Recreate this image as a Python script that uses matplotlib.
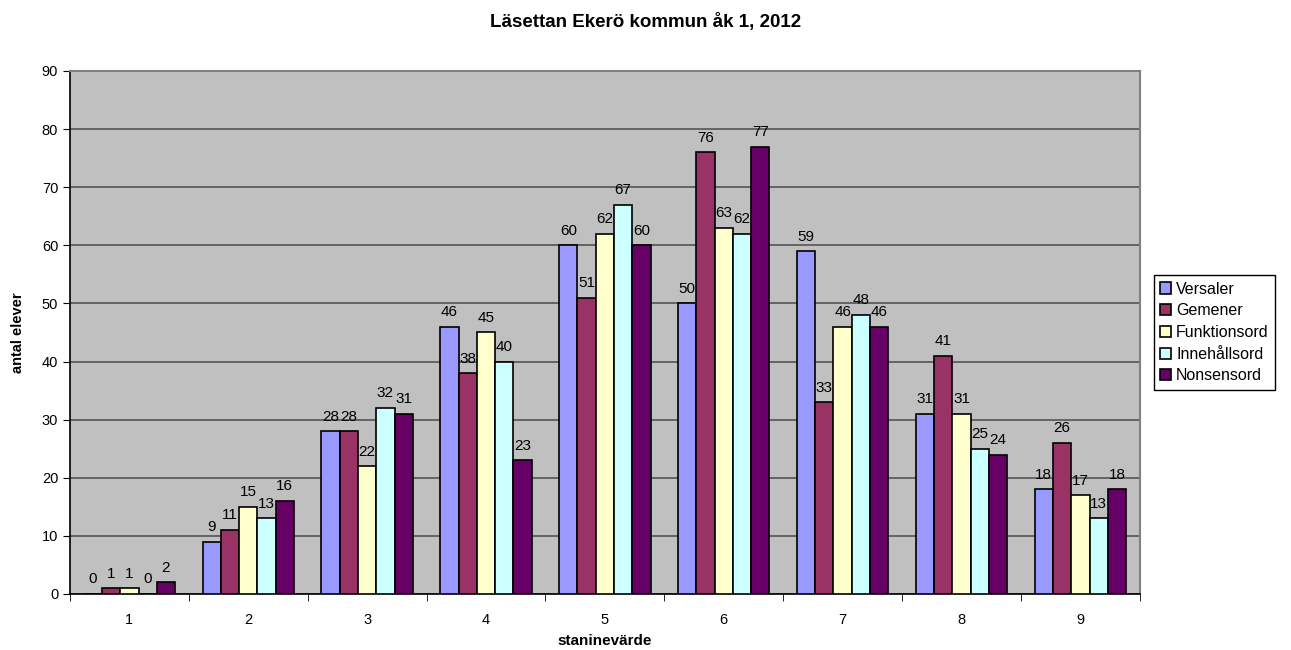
import matplotlib
matplotlib.use('Agg')
import matplotlib.pyplot as plt
import numpy as np

plt.rcParams['font.family'] = ['Liberation Sans', 'DejaVu Sans']

categories = ['1', '2', '3', '4', '5', '6', '7', '8', '9']
series_names = ['Versaler', 'Gemener', 'Funktionsord', 'Innehållsord', 'Nonsensord']
versaler = [0, 9, 28, 46, 60, 50, 59, 31, 18]
gemener = [1, 11, 28, 38, 51, 76, 33, 41, 26]
funktionsord = [1, 15, 22, 45, 62, 63, 46, 31, 17]
innehallsord = [0, 13, 32, 40, 67, 62, 48, 25, 13]
nonsensord = [2, 16, 31, 23, 60, 77, 46, 24, 18]
colors = ['#9999FF', '#993366', '#FFFFCC', '#CCFFFF', '#660066']

all_series = [versaler, gemener, funktionsord, innehallsord, nonsensord]

fig = plt.figure(figsize=(12.91, 6.5), dpi=100)
ax = fig.add_axes([0.0542, 0.0862, 0.8287, 0.8046])
ax.set_facecolor('#C0C0C0')

x = np.arange(len(categories))
w = 1 / 6.5
for i, (vals, name, c) in enumerate(zip(all_series, series_names, colors)):
    pos = x + (i - 2) * w
    ax.bar(pos, vals, w, color=c, edgecolor='black', linewidth=1.2, label=name, zorder=3)
    for xp, v in zip(pos, vals):
        ax.text(xp, v + 1.3, str(v), ha='center', va='bottom', fontsize=11, zorder=4)

ax.set_xlim(-0.5, len(categories) - 0.5)
ax.set_ylim(0, 90)
ax.set_yticks(range(0, 91, 10))
ax.yaxis.grid(True, color='#555555', linewidth=1.2, zorder=0)
ax.set_axisbelow(True)

ax.set_xticks(x)
ax.set_xticklabels(categories, fontsize=10.5)
ax.set_xticks(np.arange(-0.5, len(categories), 1), minor=True)
ax.tick_params(axis='x', which='major', length=0, pad=14)
ax.tick_params(axis='x', which='minor', length=5, direction='out', color='black')
ax.tick_params(axis='y', length=5, direction='out', labelsize=10.5)

for s in ['top', 'right']:
    ax.spines[s].set_color('#808080')
    ax.spines[s].set_linewidth(1.5)
for s in ['left', 'bottom']:
    ax.spines[s].set_color('black')
    ax.spines[s].set_linewidth(1.2)

ax.set_xlabel('staninevärde', fontsize=11, fontweight='bold', labelpad=5)
ax.set_ylabel('antal elever', fontsize=10.5, fontweight='bold', labelpad=12)
fig.suptitle('Läsettan Ekerö kommun åk 1, 2012', fontsize=13.5, fontweight='bold', y=0.98)

leg = ax.legend(loc='center left', bbox_to_anchor=(1.013, 0.50), fontsize=11.5,
                frameon=True, fancybox=False, edgecolor='black', framealpha=1,
                handlelength=0.7, handleheight=0.7, handletextpad=0.3,
                borderpad=0.4, labelspacing=0.42, borderaxespad=0)
leg.get_frame().set_linewidth(1)

fig.savefig('out.png', dpi=100, facecolor='white')
